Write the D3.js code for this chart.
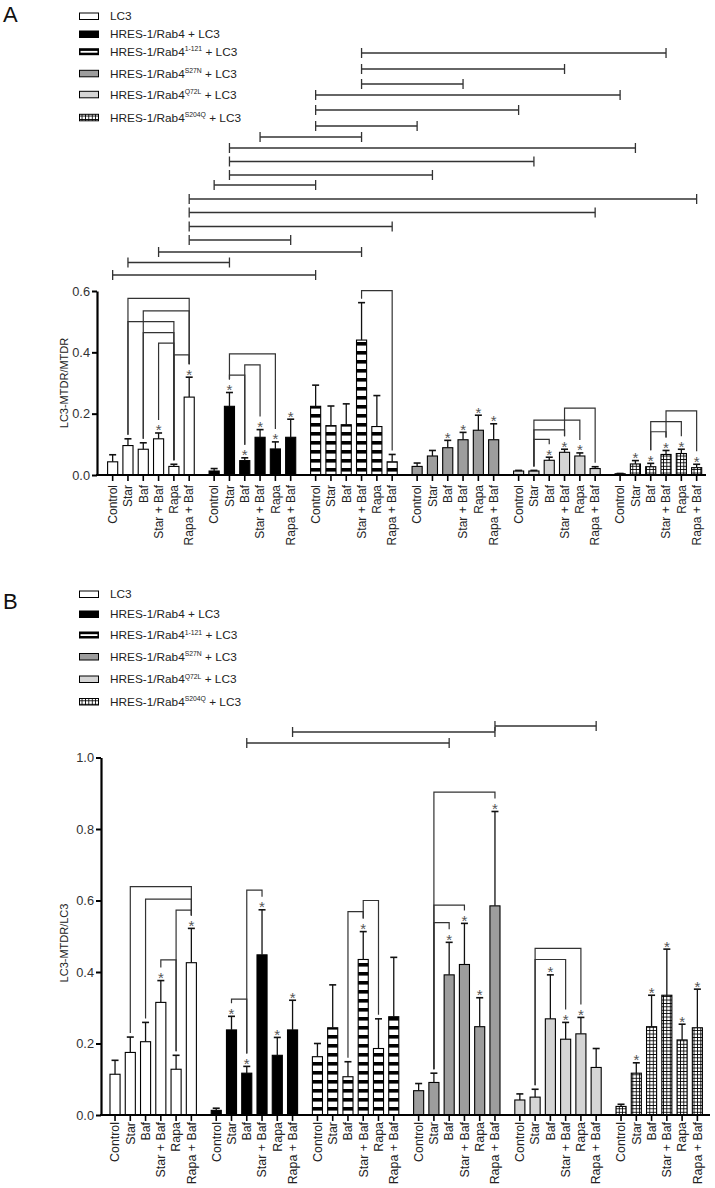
<!DOCTYPE html>
<html><head><meta charset="utf-8">
<script src="https://cdn.jsdelivr.net/npm/d3@7"></script>
<style>body{margin:0;background:#fff} text{font-family:Arial,"Liberation Sans",sans-serif;fill:#222}</style>
</head><body><svg id="c" width="715" height="1188"></svg>
<script>
// ---------------- DATA ----------------
const conditions = ["Control", "Star", "Baf", "Star + Baf", "Rapa", "Rapa + Baf"];
const seriesBase = ["LC3", "HRES-1/Rab4", "HRES-1/Rab4", "HRES-1/Rab4", "HRES-1/Rab4", "HRES-1/Rab4"];
const seriesSup = ["", "", "1-121", "S27N", "Q72L", "S204Q"];
const seriesTail = ["", " + LC3", " + LC3", " + LC3", " + LC3", " + LC3"];
const yTicksA = [0.0, 0.2, 0.4, 0.6];
const yTicksB = [0.0, 0.2, 0.4, 0.6, 0.8, 1.0];

// Panel A: LC3-MTDR/MTDR  (mean, SEM) per series, per condition
const meanA_LC3   = [0.043, 0.096, 0.084, 0.118, 0.028, 0.254];
const meanA_Rab4  = [0.013, 0.224, 0.047, 0.123, 0.085, 0.123];
const meanA_1121  = [0.224, 0.161, 0.164, 0.440, 0.158, 0.043];
const meanA_S27N  = [0.028, 0.062, 0.089, 0.115, 0.146, 0.115];
const meanA_Q72L  = [0.013, 0.013, 0.048, 0.074, 0.062, 0.021];
const meanA_S204Q = [0.004, 0.036, 0.027, 0.067, 0.070, 0.024];
const semA_LC3    = [0.023, 0.022, 0.021, 0.019, 0.007, 0.065];
const semA_Rab4   = [0.008, 0.045, 0.009, 0.025, 0.023, 0.059];
const semA_1121   = [0.069, 0.064, 0.068, 0.122, 0.101, 0.024];
const semA_S27N   = [0.011, 0.018, 0.024, 0.024, 0.049, 0.052];
const semA_Q72L   = [0.002, 0.002, 0.010, 0.010, 0.010, 0.006];
const semA_S204Q  = [0.001, 0.011, 0.011, 0.013, 0.014, 0.011];
const starA = [[0,0,0,1,0,1],[0,1,1,1,1,1],[0,0,0,0,0,0],[0,0,1,1,1,1],[0,0,1,1,1,0],[0,1,1,1,1,1]];
// within-series brackets: [series, condFrom, condTo, level]
const bracketsA = [
  [0,1,5,0.576],[0,2,5,0.535],[0,1,4,0.500],[0,2,4,0.464],[0,3,4,0.430],[0,4,5,0.392],
  [1,1,4,0.395],[1,2,3,0.359],[1,1,2,0.326],
  [2,3,5,0.601],
  [4,3,5,0.218],[4,1,4,0.179],[4,1,3,0.147],[4,1,2,0.116],
  [5,3,5,0.209],[5,2,4,0.174],[5,2,3,0.141]
];
// between-series comparisons: [[series, cond], [series, cond]]
const compareA = [
  [[2,3],[5,3]],[[2,3],[4,3]],[[2,3],[3,3]],
  [[2,0],[5,0]],[[2,0],[4,0]],[[2,0],[3,0]],
  [[1,3],[2,3]],
  [[1,1],[5,1]],[[1,1],[4,1]],[[1,1],[3,1]],
  [[1,0],[2,0]],
  [[0,5],[5,5]],[[0,5],[4,5]],[[0,5],[2,5]],[[0,5],[1,5]],
  [[0,3],[2,3]],
  [[0,1],[1,1]],
  [[0,0],[2,0]]
];

// Panel B: LC3-MTDR/LC3
const meanB_LC3   = [0.114, 0.175, 0.205, 0.315, 0.128, 0.426];
const meanB_Rab4  = [0.013, 0.238, 0.117, 0.448, 0.167, 0.238];
const meanB_1121  = [0.163, 0.244, 0.107, 0.435, 0.186, 0.275];
const meanB_S27N  = [0.068, 0.091, 0.392, 0.421, 0.247, 0.585];
const meanB_Q72L  = [0.042, 0.050, 0.269, 0.212, 0.227, 0.133];
const meanB_S204Q = [0.024, 0.117, 0.247, 0.335, 0.210, 0.244];
const semB_LC3    = [0.039, 0.043, 0.054, 0.061, 0.039, 0.096];
const semB_Rab4   = [0.006, 0.038, 0.019, 0.126, 0.050, 0.083];
const semB_1121   = [0.037, 0.120, 0.042, 0.078, 0.083, 0.166];
const semB_S27N   = [0.020, 0.026, 0.091, 0.115, 0.081, 0.264];
const semB_Q72L   = [0.017, 0.022, 0.123, 0.047, 0.046, 0.053];
const semB_S204Q  = [0.006, 0.029, 0.088, 0.129, 0.044, 0.108];
const starB = [[0,0,0,1,0,1],[0,1,1,1,1,1],[0,0,0,1,0,0],[0,0,1,1,1,1],[0,0,1,1,1,0],[0,1,1,1,1,1]];
const bracketsB = [
  [0,1,5,0.639],[0,2,5,0.604],[0,4,5,0.573],[0,3,4,0.434],
  [1,2,3,0.629],[1,1,2,0.324],
  [2,2,3,0.569],[2,3,4,0.600],
  [3,1,5,0.903],[3,1,3,0.587],[3,1,2,0.538],
  [4,1,4,0.466],[4,1,3,0.435]
];
const compareB = [
  [[3,5],[4,5]],
  [[1,5],[3,5]],
  [[1,2],[3,2]]
];

// ---------------- DRAWING ----------------
const svg = d3.select("#c");
svg.append("rect").attr("width",715).attr("height",1188).attr("fill","#fff");
const defs = svg.append("defs");
const st = defs.append("pattern").attr("id","stripes").attr("patternUnits","userSpaceOnUse").attr("width",10).attr("height",9);
st.append("rect").attr("width",10).attr("height",9).attr("fill","#fff");
st.append("rect").attr("y",0).attr("width",10).attr("height",3.6).attr("fill","#000");
const gr = defs.append("pattern").attr("id","grid").attr("patternUnits","userSpaceOnUse").attr("width",3.4).attr("height",3.4);
gr.append("rect").attr("width",3.4).attr("height",3.4).attr("fill","#fff");
gr.append("path").attr("d","M0 0.4H3.4M0.4 0V3.4").attr("stroke","#000").attr("stroke-width",0.9);

const fills = ["#ffffff", "#000000", "url(#stripes)", "#9d9d9d", "#d5d5d5", "url(#grid)"];

function drawLegend(g, x, ys) {
  seriesBase.forEach((b, i) => {
    const yy = ys[i];
    if (i === 2) {
      g.append("rect").attr("x",x).attr("y",yy-3.5).attr("width",20).attr("height",7).attr("fill","#000");
      g.append("rect").attr("x",x+1.5).attr("y",yy-0.8).attr("width",17).attr("height",1.8).attr("fill","#fff");
    } else {
      g.append("rect").attr("x",x+0.5).attr("y",yy-3).attr("width",19).attr("height",6.5)
        .attr("fill",fills[i]).attr("stroke","#000").attr("stroke-width",1);
    }
    const t = g.append("text").attr("x",x+31).attr("y",yy+4.3).attr("font-size",11.8);
    t.append("tspan").text(b);
    if (seriesSup[i]) {
      t.append("tspan").attr("dy",-4.8).attr("font-size",6.8).text(seriesSup[i]);
      t.append("tspan").attr("dy",4.8).text(seriesTail[i]);
    } else {
      t.append("tspan").text(seriesTail[i]);
    }
  });
}

function drawPanel(cfg) {
  const g = svg.append("g");
  const y = d3.scaleLinear().domain([0, cfg.yMax]).range([cfg.y0, cfg.yTop]);
  const outer = d3.scaleBand().domain(d3.range(6)).range(cfg.xRange).paddingInner(0.095).paddingOuter(0);
  const inner = d3.scaleBand().domain(d3.range(6)).range([0, outer.bandwidth()]).paddingInner(0.34).paddingOuter(0.17);
  const cx = (s, c) => outer(s) + inner(c) + inner.bandwidth() / 2;
  const bars = [];
  cfg.means.forEach((arr, s) => arr.forEach((m, c) => bars.push({s, c, m, e: cfg.sems[s][c], star: cfg.stars[s][c]})));
  const top = (s, c) => { const b = bars.find(d => d.s === s && d.c === c); return y(b.m + b.e) - (b.star ? 13 : 4); };

  // bars
  g.selectAll("rect.bar").data(bars).join("rect").attr("class","bar")
    .attr("x", d => outer(d.s) + inner(d.c)).attr("width", inner.bandwidth())
    .attr("y", d => y(d.m)).attr("height", d => y(0) - y(d.m))
    .attr("fill", d => fills[d.s]).attr("stroke","#000").attr("stroke-width",1.1);
  // error bars
  const eb = g.append("g").attr("stroke","#111").attr("stroke-width",1.3);
  bars.forEach(d => {
    const x = cx(d.s, d.c);
    eb.append("line").attr("x1",x).attr("x2",x).attr("y1",y(d.m)).attr("y2",y(d.m + d.e));
    eb.append("line").attr("x1",x-3.5).attr("x2",x+3.5).attr("y1",y(d.m + d.e)).attr("y2",y(d.m + d.e)).attr("stroke-width",1.6);
  });
  // stars
  g.selectAll("text.star").data(bars.filter(d => d.star)).join("text").attr("class","star")
    .attr("x", d => cx(d.s, d.c)).attr("y", d => y(d.m + d.e) + 2.5)
    .attr("text-anchor","middle").attr("font-size",15).style("fill","#555").text("*");
  // within-series brackets
  const br = g.append("g").attr("stroke","#333").attr("stroke-width",1.2).attr("fill","none");
  cfg.brackets.forEach(([s, a, b, lv]) => {
    const yl = y(lv);
    br.append("path").attr("d", `M${cx(s,a)},${top(s,a)}V${yl}H${cx(s,b)}V${top(s,b)}`);
  });
  // between-series comparison lines
  const cp = g.append("g").attr("stroke","#333").attr("stroke-width",1.3);
  cfg.compare.forEach(([[s1,c1],[s2,c2]], i) => {
    const yl = cfg.compareY[i];
    const x1 = cx(s1,c1), x2 = cx(s2,c2);
    cp.append("line").attr("x1",x1).attr("x2",x2).attr("y1",yl).attr("y2",yl);
    cp.append("line").attr("x1",x1).attr("x2",x1).attr("y1",yl-5).attr("y2",yl+5);
    cp.append("line").attr("x1",x2).attr("x2",x2).attr("y1",yl-5).attr("y2",yl+5);
  });

  // y axis
  const ya = g.append("g").attr("transform",`translate(${cfg.axisX},0)`)
    .call(d3.axisLeft(y).tickValues(cfg.yTicks).tickFormat(d3.format(".1f")).tickSize(5).tickSizeOuter(0));
  ya.select(".domain").attr("stroke","#000").attr("stroke-width",2.2);
  ya.selectAll(".tick line").attr("stroke","#000").attr("stroke-width",2);
  ya.selectAll(".tick text").attr("font-size",12.8).attr("x",-7).style("fill","#333").attr("font-family","Arial, Liberation Sans, sans-serif");
  // x axis baseline and ticks
  g.append("line").attr("x1",cfg.axisX-1).attr("x2",cfg.axisEnd).attr("y1",y(0)).attr("y2",y(0))
    .attr("stroke","#000").attr("stroke-width",2.2);
  g.selectAll("line.xt").data(bars).join("line").attr("class","xt")
    .attr("x1", d => cx(d.s,d.c)).attr("x2", d => cx(d.s,d.c))
    .attr("y1", y(0)).attr("y2", y(0) + 6).attr("stroke","#000").attr("stroke-width",1.6);
  g.selectAll("text.xl").data(bars).join("text").attr("class","xl")
    .attr("transform", d => `translate(${cx(d.s,d.c)+4.3},${y(0)+cfg.labelGap}) rotate(-90)`)
    .attr("text-anchor","end").attr("font-size",cfg.labelSize).text(d => conditions[d.c]);
  // y label
  g.append("text").attr("transform",`translate(${cfg.yLabelX},${cfg.yLabelY}) rotate(-90)`)
    .attr("text-anchor","middle").attr("font-size",11).text(cfg.yLabel);
  // panel letter
  g.append("text").attr("x",cfg.letterX).attr("y",cfg.letterY).attr("font-size",22).style("fill","#111").text(cfg.letter);
  drawLegend(g, 79, cfg.legendY);
}

drawPanel({
  letter:"A", letterX:3, letterY:22,
  means:[meanA_LC3, meanA_Rab4, meanA_1121, meanA_S27N, meanA_Q72L, meanA_S204Q],
  sems:[semA_LC3, semA_Rab4, semA_1121, semA_S27N, semA_Q72L, semA_S204Q],
  stars:starA, brackets:bracketsA, compare:compareA,
  compareY:[53,69,84,95,110,126,137,148,161.5,175,185,199,212.5,226.5,240,252,262.5,275],
  yMax:0.6, y0:475, yTop:291, yTicks:yTicksA, axisX:97, axisEnd:706, xRange:[105,704.3],
  labelGap:10, labelSize:12, yLabel:"LC3-MTDR/MTDR", yLabelX:68, yLabelY:383,
  legendY:[16,34,51.7,73.3,94.3,117.3]
});
drawPanel({
  letter:"B", letterX:3, letterY:609,
  means:[meanB_LC3, meanB_Rab4, meanB_1121, meanB_S27N, meanB_Q72L, meanB_S204Q],
  sems:[semB_LC3, semB_Rab4, semB_1121, semB_S27N, semB_Q72L, semB_S204Q],
  stars:starB, brackets:bracketsB, compare:compareB,
  compareY:[726,732,743],
  yMax:1.0, y0:1115, yTop:757.5, yTicks:yTicksB, axisX:101, axisEnd:710, xRange:[107.4,705],
  labelGap:7, labelSize:12.4, yLabel:"LC3-MTDR/LC3", yLabelX:68, yLabelY:943,
  legendY:[594,614,635,656.5,679,701.5]
});
</script></body></html>
